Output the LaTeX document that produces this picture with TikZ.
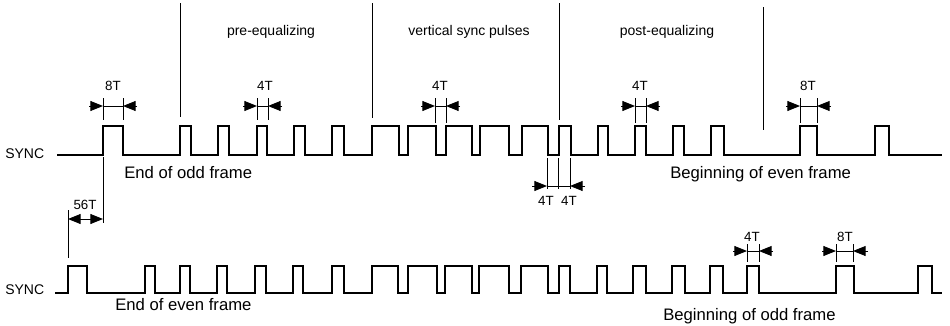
\documentclass[tikz,border=0pt]{standalone}
\usepackage{fontspec}
\setmainfont{Liberation Sans}
\usetikzlibrary{arrows.meta}

\begin{document}
\begin{tikzpicture}[
    x=0.75pt, y=-0.75pt,
    wave/.style={line width=1.7pt, line join=miter},
    sep/.style={line width=0.7pt},
    tick/.style={line width=0.5pt},
    dim/.style={-{Triangle[length=9.5pt, width=7.5pt]}, line width=0.7pt},
    tlbl/.style={font=\fontsize{10}{12}\selectfont, anchor=base, inner sep=0pt},
    sect/.style={font=\fontsize{10.5}{12}\selectfont, anchor=base, inner sep=0pt},
    frm/.style={font=\fontsize{12.5}{14}\selectfont, anchor=base west, inner sep=0pt},
]
\useasboundingbox (0,0) rectangle (950,325);

% Odd field sync
\node[sect, anchor=base west] (sync1) at (5,158) {SYNC};
\draw[wave] (57,155) foreach \r/\f in {103/123, 180/191, 218/229, 257/267, 294/305, 332/344,
    372/399, 408/436, 446/472, 480/509, 522/548,
    559/571, 598/608, 635/646, 673/684, 711/724, 800/817, 875/889}
    { -| (\r,126) -| (\f,155) } -- (942,155);

% Section separators
\draw[sep] (180,3) -- (180,117);
\draw[sep] (372,3) -- (372,118);
\draw[sep] (559,3) -- (559,120);
\draw[sep] (763,7) -- (763,130);
\node[sect] (pre) at (271,35) {pre-equalizing};
\node[sect] (vsp) at (469,35) {vertical sync pulses};
\node[sect] (post) at (667,35) {post-equalizing};

% Widths, odd field
\draw[tick] (103,98) -- (103,120) (123,98) -- (123,120) (103,106) -- (123,106);
\draw[dim] (89,106) -- (103,106);
\draw[dim] (137,106) -- (123,106);
\node[tlbl] (w8a) at (113,90) {8T};

\draw[tick] (257,98) -- (257,120) (268,98) -- (268,120) (257,106) -- (268,106);
\draw[dim] (243,106) -- (257,106);
\draw[dim] (282,106) -- (268,106);
\node[tlbl] (w4a) at (265,90) {4T};

\draw[tick] (435,98) -- (435,123) (446,98) -- (446,123) (435,106) -- (446,106);
\draw[dim] (421,106) -- (435,106);
\draw[dim] (460,106) -- (446,106);
\node[tlbl] (w4b) at (440,90) {4T};

\draw[tick] (635,98) -- (635,123) (646,98) -- (646,123) (635,106) -- (646,106);
\draw[dim] (621,106) -- (635,106);
\draw[dim] (660,106) -- (646,106);
\node[tlbl] (w4c) at (640,90) {4T};

\draw[tick] (800,98) -- (800,123) (817,98) -- (817,123) (800,106) -- (817,106);
\draw[dim] (786,106) -- (800,106);
\draw[dim] (831,106) -- (817,106);
\node[tlbl] (w8b) at (808,90) {8T};

\draw[tick] (547,158) -- (547,189) (558,158) -- (558,189) (570,158) -- (570,189) (547,186) -- (570,186);
\draw[dim] (532,186) -- (547,186);
\draw[dim] (585,186) -- (570,186);
\node[tlbl] (w4d) at (546,205) {4T};
\node[tlbl] (w4e) at (569,205) {4T};

\node[frm] (endodd) at (124,178) {End of odd frame};
\node[frm] (begeven) at (670,178) {Beginning of even frame};

% Offset between fields
\draw[tick] (103,157) -- (103,223) (68,210) -- (68,258);
\draw[{Triangle[length=9.5pt, width=7.5pt]}-{Triangle[length=9.5pt, width=7.5pt]}, line width=0.7pt] (68,219) -- (103,219);
\node[tlbl] (w56) at (85,209) {56T};

% Even field sync
\node[sect, anchor=base west] (sync2) at (5,294) {SYNC};
\draw[wave] (55,293) foreach \r/\f in {68/87, 145/155, 180/190, 217/227, 255/266, 293/303, 332/344,
    372/398, 408/437, 445/472, 479/509, 521/548,
    559/570, 597/607, 633/646, 672/685, 710/723, 747/759, 836/854, 918/932}
    { -| (\r,266) -| (\f,293) } -- (942,293);

% Widths, even field
\draw[tick] (747,244) -- (747,262) (759,244) -- (759,262) (747,251) -- (759,251);
\draw[dim] (733,251) -- (747,251);
\draw[dim] (773,251) -- (759,251);
\node[tlbl] (w4f) at (752,241) {4T};

\draw[tick] (836,244) -- (836,262) (853,244) -- (853,262) (836,251) -- (853,251);
\draw[dim] (822,251) -- (836,251);
\draw[dim] (868,251) -- (853,251);
\node[tlbl] (w8c) at (845,241) {8T};

\node[frm] (endeven) at (115,310) {End of even frame};
\node[frm] (begodd) at (663,320) {Beginning of odd frame};

\end{tikzpicture}
\end{document}
